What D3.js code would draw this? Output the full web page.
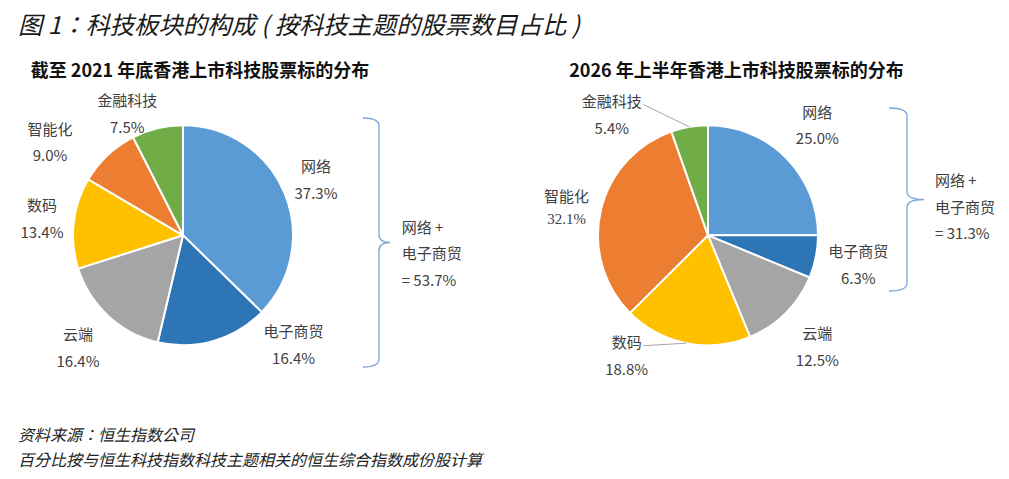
<!DOCTYPE html>
<html>
<head>
<meta charset="utf-8">
<script src="https://cdn.jsdelivr.net/npm/d3@7"></script>
<style>
  html, body { margin: 0; padding: 0; background: #fff; }
  svg { display: block; }
  text { font-family: "Noto Sans CJK SC", "Noto Sans", sans-serif; }
  text.tc { font-family: "Noto Sans CJK TC", "Noto Sans CJK SC", sans-serif; }
  text.serif { font-family: "Liberation Serif", "DejaVu Serif", serif; }
</style>
</head>
<body>
<svg id="chart" width="1009" height="479"></svg>
<script>
// ---- data ----
const categories = ["网络", "电子商贸", "云端", "数码", "智能化", "金融科技"];
const values2021 = [37.3, 16.4, 16.4, 13.4, 9.0, 7.5];
const values2026 = [25.0, 6.3, 12.5, 18.8, 32.1, 5.4];
const sliceColors = ["#5B9BD5", "#2E75B6", "#A5A5A5", "#FFC000", "#ED7D31", "#70AD47"];
const bracketText2021 = ["网络 +", "电子商贸", "= 53.7%"];
const bracketText2026 = ["网络 +", "电子商贸", "= 31.3%"];
const titleText = "图 1：科技板块的构成 ( 按科技主题的股票数目占比 )";
const subtitle2021 = "截至 2021 年底香港上市科技股票标的分布";
const subtitle2026 = "2026 年上半年香港上市科技股票标的分布";
const footnotes = ["资料来源：恒生指数公司", "百分比按与恒生科技指数科技主题相关的恒生综合指数成份股计算"];

// ---- layout (positions only) ----
const R = 110;
const lineGap = 13.3;
const layoutLeft = {
  cx: 183, cy: 235.3,
  labels: [[133, -55], [110.6, 110], [-105, 113], [-141, -16], [-133, -92.6], [-55.7, -121]],
  leader: [false, false, false, false, false, false],
  brace: { x0: 363, x1: 379, tip: 390, top: 118, bottom: 367, textX: 401.7, textY: [228, 254, 281] },
  subX: 200, subY: 71
};
const layoutRight = {
  cx: 708, cy: 235.3,
  labels: [[109.3, -109.6], [150.3, 29.7], [109.3, 112], [-81.3, 120.7], [-141.5, -27.8], [-96.3, -120.3]],
  leader: [false, false, false, true, false, true],
  brace: { x0: 889, x1: 907, tip: 924, top: 108, bottom: 291, textX: 935, textY: [181, 207.7, 234] },
  subX: 736.5, subY: 71
};

const svg = d3.select("#chart");

svg.append("text")
  .attr("class", "tc")
  .attr("x", 18).attr("y", 25).attr("dy", "0.35em")
  .attr("font-size", 24.3).attr("font-style", "italic").attr("fill", "#1a1a1a")
  .text(titleText);

footnotes.forEach((t, i) => {
  svg.append("text")
    .attr("class", "tc")
    .attr("x", 18).attr("y", 435 + i * 25).attr("dy", "0.35em")
    .attr("font-size", 16).attr("font-style", "italic").attr("fill", "#222")
    .text(t);
});

function drawPie(values, L, subtitle, bracketLines, specialIdx) {
  const g = svg.append("g");
  g.append("text")
    .attr("x", L.subX).attr("y", L.subY).attr("dy", "0.35em")
    .attr("text-anchor", "middle")
    .attr("font-size", 18).attr("font-weight", "bold").attr("fill", "#111")
    .text(subtitle);

  const color = d3.scaleOrdinal().domain(categories).range(sliceColors);
  const pie = d3.pie().sort(null).value(d => d.v);
  const data = pie(categories.map((c, i) => ({ c, v: values[i], i })));
  const arc = d3.arc().innerRadius(0).outerRadius(R);
  const edgeArc = d3.arc().innerRadius(R).outerRadius(R);

  const pg = g.append("g").attr("transform", `translate(${L.cx},${L.cy})`);
  pg.selectAll("path.slice").data(data).join("path")
    .attr("class", "slice")
    .attr("d", arc)
    .attr("fill", d => color(d.data.c))
    .attr("stroke", "#fff").attr("stroke-width", 2).attr("stroke-linejoin", "round");

  data.forEach((d, i) => {
    const [lx, ly] = L.labels[i];
    const isSpecial = i === specialIdx;
    const nameY = isSpecial ? ly - 10.8 : ly - lineGap;
    const valY = isSpecial ? ly + 10.8 : ly + lineGap;
    pg.append("text")
      .attr("x", lx).attr("y", nameY).attr("dy", "0.35em")
      .attr("text-anchor", "middle").attr("font-size", 15).attr("fill", "#404040")
      .text(d.data.c);
    pg.append("text")
      .attr("class", isSpecial ? "serif" : null)
      .attr("x", lx).attr("y", valY).attr("dy", "0.35em")
      .attr("text-anchor", "middle")
      .attr("font-size", 15)
      .attr("fill", "#404040")
      .text(d.data.v.toFixed(1) + "%");
    if (L.leader[i]) {
      const [ex, ey] = edgeArc.centroid(d);
      const halfW = d.data.c.length * 15 / 2;
      pg.append("line")
        .attr("x1", lx + halfW + 2).attr("y1", nameY + 3)
        .attr("x2", ex).attr("y2", ey)
        .attr("stroke", "#A6A6A6").attr("stroke-width", 1);
    }
  });

  const b = L.brace;
  const mid = (b.top + b.bottom) / 2;
  const path = d3.path();
  path.moveTo(b.x0, b.top);
  path.quadraticCurveTo(b.x1, b.top, b.x1, b.top + 8);
  path.lineTo(b.x1, mid - 8);
  path.quadraticCurveTo(b.x1, mid, b.tip, mid);
  path.quadraticCurveTo(b.x1, mid, b.x1, mid + 8);
  path.lineTo(b.x1, b.bottom - 8);
  path.quadraticCurveTo(b.x1, b.bottom, b.x0, b.bottom);
  g.append("path").attr("d", path.toString())
    .attr("fill", "none").attr("stroke", "#7EA6D8").attr("stroke-width", 1.3);

  bracketLines.forEach((t, i) => {
    g.append("text")
      .attr("x", b.textX).attr("y", b.textY[i]).attr("dy", "0.35em")
      .attr("font-size", 15).attr("fill", "#404040")
      .text(t);
  });
}

drawPie(values2021, layoutLeft, subtitle2021, bracketText2021, -1);
drawPie(values2026, layoutRight, subtitle2026, bracketText2026, 4);
</script>
</body>
</html>
